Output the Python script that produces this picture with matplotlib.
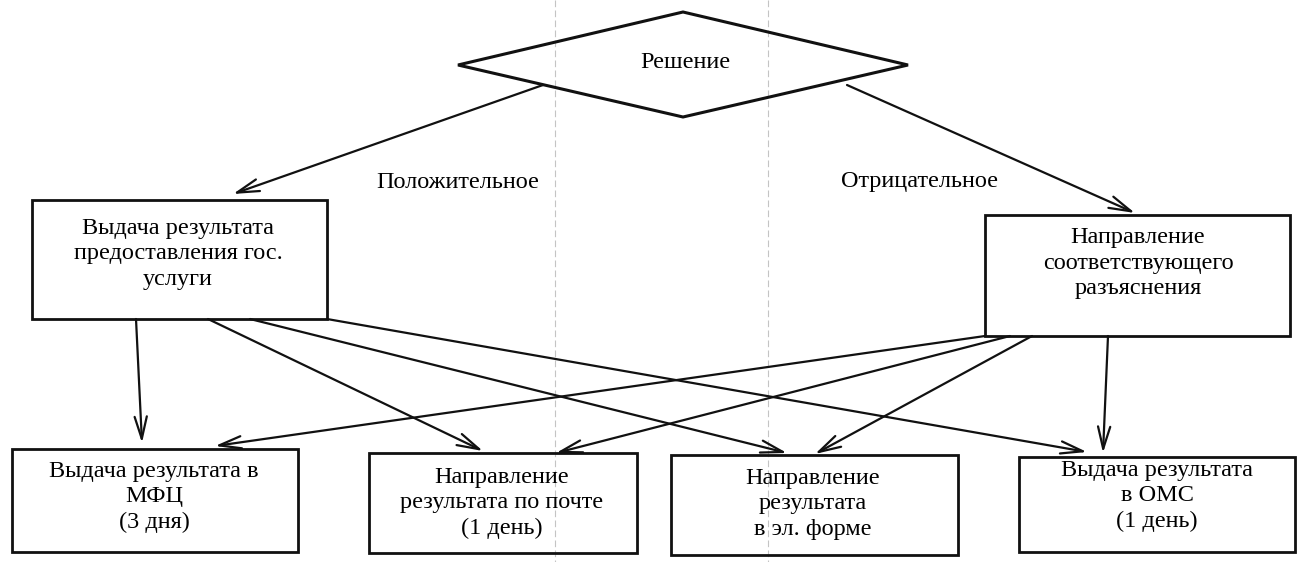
import matplotlib
matplotlib.use("Agg")
import matplotlib.pyplot as plt
from matplotlib.patches import Rectangle, Polygon

W, H = 1303, 562

decision = "Решение"
branch_labels = ["Положительное", "Отрицательное"]
middle_labels = ["Выдача результата\nпредоставления гос.\nуслуги",
                 "Направление\nсоответствующего\nразъяснения"]
bottom_labels = ["Выдача результата в\nМФЦ\n(3 дня)",
                 "Направление\nрезультата по почте\n(1 день)",
                 "Направление\nрезультата\nв эл. форме",
                 "Выдача результата\nв ОМС\n(1 день)"]

# geometry (pixels, y down)
diamond_pts = [(683, 12), (908, 65), (683, 117), (458, 65)]
middle_boxes = [(32, 200, 327, 319), (985, 215, 1290, 336)]
bottom_boxes = [(12, 449, 298, 552), (369, 453, 637, 553),
                (671, 455, 958, 555), (1019, 457, 1295, 552)]
branch_pos = [(458, 182), (919, 182)]
middle_text_pos = [(178, 254), (1138, 263)]
bottom_text_pos = [(154, 497), (502, 503), (813, 504), (1157, 496)]

# (start, end)
arrows = [
    ((543, 85), (233, 194)),
    ((847, 85), (1135, 213)),
    ((136, 319), (142, 443)),
    ((208, 319), (483, 451)),
    ((250, 319), (787, 453)),
    ((327, 319), (1087, 452)),
    ((985, 336), (215, 446)),
    ((1010, 336), (556, 453)),
    ((1032, 336), (815, 454)),
    ((1108, 336), (1103, 453)),
]

font = "Liberation Serif"
fs = 17.5

fig = plt.figure(figsize=(W / 100, H / 100), dpi=100)
ax = fig.add_axes([0, 0, 1, 1])
ax.set_xlim(0, W)
ax.set_ylim(H, 0)
ax.axis("off")

# faint scanner streaks
for sx in [555, 768]:
    ax.plot([sx, sx], [0, H], color="#c4c4c4", lw=0.8, ls=(0, (6, 3)), zorder=0)

ax.add_patch(Polygon(diamond_pts, closed=True, fill=False, ec="#111111", lw=2.2))
ax.text(685, 62, decision, ha="center", va="center", fontsize=fs, family=font)

for (x0, y0, x1, y1) in middle_boxes + bottom_boxes:
    ax.add_patch(Rectangle((x0, y0), x1 - x0, y1 - y0, fill=False, ec="#111111", lw=2))

for (x, y), s in zip(middle_text_pos, middle_labels):
    ax.text(x, y, s, ha="center", va="center", fontsize=fs, family=font, linespacing=1.27)
for (x, y), s in zip(bottom_text_pos, bottom_labels):
    ax.text(x, y, s, ha="center", va="center", fontsize=fs, family=font, linespacing=1.27)
for (x, y), s in zip(branch_pos, branch_labels):
    ax.text(x, y, s, ha="center", va="center", fontsize=fs, family=font)

for (s, e) in arrows:
    ax.annotate("", xy=e, xytext=s,
                arrowprops=dict(arrowstyle="->,head_length=0.8,head_width=0.22",
                                lw=1.6, color="#111111", shrinkA=0, shrinkB=0,
                                mutation_scale=20))

fig.savefig("out.png", dpi=100, facecolor="white")
